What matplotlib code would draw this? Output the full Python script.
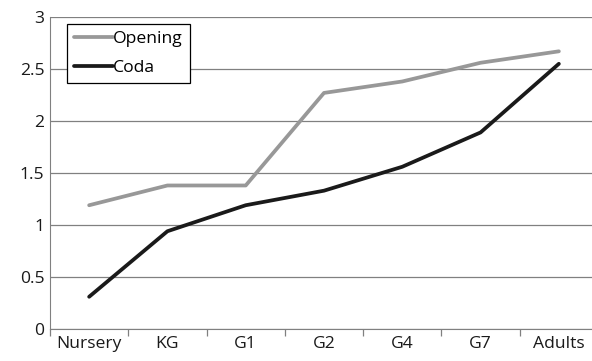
import matplotlib
matplotlib.use("Agg")
import matplotlib.pyplot as plt

categories = ["Nursery", "KG", "G1", "G2", "G4", "G7", "Adults"]
opening = [1.19, 1.38, 1.38, 2.27, 2.38, 2.56, 2.67]
coda = [0.31, 0.94, 1.19, 1.33, 1.56, 1.89, 2.55]

plt.rcParams["font.family"] = ["Open Sans", "DejaVu Sans"]
FS = 12.6

fig = plt.figure(figsize=(5.92, 3.61), dpi=100)
ax = fig.add_axes([50 / 592, 1 - 329 / 361, 548 / 592, 312 / 361])

x = list(range(len(categories)))
ax.plot(x, opening, color="#989898", lw=2.7, label="Opening", solid_capstyle="round")
ax.plot(x, coda, color="#1a1a1a", lw=2.7, label="Coda", solid_capstyle="round")

ax.set_xlim(-0.5, len(categories) - 0.5)
ax.set_ylim(0, 3)
ax.set_yticks([0, 0.5, 1, 1.5, 2, 2.5, 3])
ax.set_yticklabels(["0", "0.5", "1", "1.5", "2", "2.5", "3"])
ax.set_xticks(x)
ax.set_xticklabels(categories)
ax.set_xticks([i - 0.5 for i in range(len(categories) + 1)], minor=True)

ax.grid(axis="y", color="#808080", lw=0.9)
ax.set_axisbelow(True)
for s in ["top", "right"]:
    ax.spines[s].set_visible(False)
ax.spines["left"].set_color("#808080")
ax.spines["bottom"].set_color("#808080")
ax.tick_params(axis="y", length=0, pad=4, labelsize=FS, colors="#1a1a1a")
ax.tick_params(axis="x", which="major", length=0, pad=5, labelsize=FS, colors="#1a1a1a")
ax.tick_params(axis="x", which="minor", length=5, color="#808080", width=0.9)

leg = ax.legend(loc="upper left", bbox_to_anchor=(17 / 548, 1 - 7 / 312), frameon=True,
                fancybox=False, edgecolor="black", fontsize=FS, handlelength=2.25,
                handletextpad=0.0, borderpad=0.4, labelspacing=0.72, borderaxespad=0,
                framealpha=1)
leg.get_frame().set_linewidth(0.9)

# widen the legend frame a little to the right of the labels
fig.canvas.draw()
frame = leg.get_frame()
frame.set_width(frame.get_width() + 10)

fig.savefig("out.png", dpi=100)
